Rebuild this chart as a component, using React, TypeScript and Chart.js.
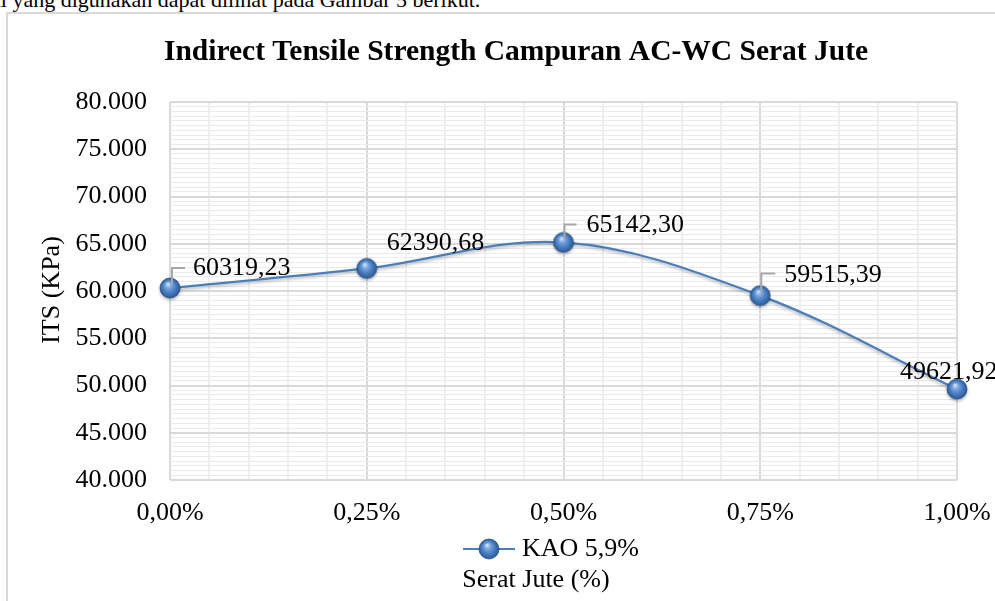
import React, { useEffect, useRef } from 'react';
import { Chart, registerables } from 'chart.js';

Chart.register(...registerables);

// ---- data ----
const chartTitle = 'Indirect Tensile Strength Campuran AC-WC Serat Jute';
const seriesName = 'KAO 5,9%';
const xAxisTitle = 'Serat Jute (%)';
const yAxisTitle = 'ITS (KPa)';
const pageText = 'al yang digunakan dapat dilihat pada Gambar 5 berikut.';

const fiberContent = [0, 0.25, 0.5, 0.75, 1.0];
const itsValues = [60319.23, 62390.68, 65142.3, 59515.39, 49621.92];

const yMin = 40000;
const yMax = 80000;
const yMajor = 5000;
const yMinor = 500;
const xMin = 0;
const xMax = 1;
const xMajor = 0.25;
const xMinor = 0.05;

// ---- styles ----
const FONT = '"Liberation Serif", "Times New Roman", serif';
const LINE_COLOR = '#4a7ebb';
const MAJOR_GRID = '#d9d9d9';
const MINOR_GRID_H = '#ebebeb';
const MINOR_GRID_V = '#efefef';

// label placement relative to each point (text left, text middle, optional leader corner/end)
const labelOffsets = [
  { dx: 23, dy: -20, leader: { cx: 2, cy: -20, ex: 15 } },
  { dx: 20, dy: -25, leader: null },
  { dx: 23, dy: -17, leader: { cx: 1, cy: -18, ex: 13 } },
  { dx: 24, dy: -20, leader: { cx: 1, cy: -22, ex: 15 } },
  { dx: -57, dy: -17, leader: null },
];

const fmtY = (v: number) =>
  Math.round(v).toString().replace(/\B(?=(\d{3})+(?!\d))/g, '.');
const fmtX = (v: number) => v.toFixed(2).replace('.', ',') + '%';
const fmtLabel = (v: number) => v.toFixed(2).replace('.', ',');
const isMultiple = (v: number, step: number) =>
  Math.abs(v / step - Math.round(v / step)) < 1e-6;

function makeSphere(): HTMLCanvasElement {
  const c = document.createElement('canvas');
  const s = 22;
  c.width = s;
  c.height = s;
  const g = c.getContext('2d')!;
  const cx = s / 2;
  const cy = s / 2;
  const r = 10;
  const grad = g.createRadialGradient(cx - 2, cy - 4, 0.5, cx, cy, r);
  grad.addColorStop(0, '#d3e3f7');
  grad.addColorStop(0.25, '#7fa9de');
  grad.addColorStop(0.6, '#4a80c6');
  grad.addColorStop(0.9, '#33649f');
  grad.addColorStop(1, '#2a5288');
  g.beginPath();
  g.arc(cx, cy, r, 0, Math.PI * 2);
  g.fillStyle = grad;
  g.fill();
  g.lineWidth = 0.8;
  g.strokeStyle = 'rgba(35,75,130,0.9)';
  g.stroke();
  return c;
}

export default function App() {
  const ref = useRef<HTMLCanvasElement | null>(null);

  useEffect(() => {
    const canvas = ref.current;
    if (!canvas) return;
    const sphere = makeSphere();

    const overlay = {
      id: 'overlay',
      beforeDatasetDraw(chart: any) {
        const ctx = chart.ctx;
        ctx.save();
        ctx.shadowColor = 'rgba(0,0,0,0.28)';
        ctx.shadowBlur = 3;
        ctx.shadowOffsetY = 2;
      },
      afterDatasetDraw(chart: any) {
        chart.ctx.restore();
      },
      afterDatasetsDraw(chart: any) {
        const ctx = chart.ctx;
        const meta = chart.getDatasetMeta(0);
        ctx.save();
        meta.data.forEach((pt: any, i: number) => {
          const o = labelOffsets[i];
          if (o.leader) {
            ctx.beginPath();
            ctx.strokeStyle = '#a6a6a6';
            ctx.lineWidth = 2;
            ctx.moveTo(pt.x + o.leader.cx, pt.y - 4);
            ctx.lineTo(pt.x + o.leader.cx, pt.y + o.leader.cy);
            ctx.lineTo(pt.x + o.leader.ex, pt.y + o.leader.cy);
            ctx.stroke();
          }
          ctx.fillStyle = '#000';
          ctx.font = `26px ${FONT}`;
          ctx.textAlign = 'left';
          ctx.textBaseline = 'middle';
          ctx.fillText(fmtLabel(itsValues[i]), pt.x + o.dx, pt.y + o.dy);
        });
        ctx.restore();
      },
      afterDraw(chart: any) {
        const ctx = chart.ctx;
        const ca = chart.chartArea;
        ctx.save();
        ctx.fillStyle = '#000';
        // title
        ctx.font = `bold 29.5px ${FONT}`;
        ctx.textAlign = 'center';
        ctx.textBaseline = 'alphabetic';
        ctx.fillText(chartTitle, 516, ca.top - 42);
        // y axis title
        ctx.save();
        ctx.translate(52, 290);
        ctx.rotate(-Math.PI / 2);
        ctx.font = `26px ${FONT}`;
        ctx.textAlign = 'center';
        ctx.textBaseline = 'middle';
        ctx.fillText(yAxisTitle, 0, 0);
        ctx.restore();
        // legend
        const ly = ca.bottom + 69;
        ctx.beginPath();
        ctx.strokeStyle = LINE_COLOR;
        ctx.lineWidth = 2;
        ctx.moveTo(463, ly);
        ctx.lineTo(515, ly);
        ctx.stroke();
        ctx.drawImage(sphere, 489 - sphere.width / 2, ly - sphere.height / 2);
        ctx.font = `26px ${FONT}`;
        ctx.textAlign = 'left';
        ctx.textBaseline = 'middle';
        ctx.fillText(seriesName, 522, ly);
        // x axis title
        ctx.textAlign = 'center';
        ctx.fillText(xAxisTitle, 536, ca.bottom + 100);
        ctx.restore();
      },
    };

    const chart = new Chart(canvas, {
      type: 'line',
      data: {
        datasets: [
          {
            label: seriesName,
            data: fiberContent.map((x, i) => ({ x, y: itsValues[i] })),
            borderColor: LINE_COLOR,
            backgroundColor: LINE_COLOR,
            borderWidth: 2.25,
            tension: 0.35,
            fill: false,
            pointStyle: sphere as any,
            pointRadius: 10,
            clip: false as any,
          },
        ],
      },
      options: {
        animation: false,
        responsive: false,
        devicePixelRatio: 1,
        events: [],
        layout: { padding: { left: 70, right: 38, top: 102, bottom: 61 } },
        plugins: {
          legend: { display: false },
          title: { display: false },
          tooltip: { enabled: false },
        },
        scales: {
          x: {
            type: 'linear',
            min: xMin,
            max: xMax,
            afterFit: (s: any) => {
              s.height = 60;
              s.paddingLeft = 0;
              s.paddingRight = 0;
            },
            border: { display: false },
            grid: {
              drawTicks: false,
              color: (c: any) => (isMultiple(c.tick.value, xMajor) ? MAJOR_GRID : MINOR_GRID_V),
              lineWidth: 2,
            },
            ticks: {
              stepSize: xMinor,
              autoSkip: false,
              maxRotation: 0,
              maxTicksLimit: 1000,
              padding: 18,
              color: '#000',
              font: { family: FONT, size: 26 },
              callback: (v: any) => (isMultiple(Number(v), xMajor) ? fmtX(Number(v)) : ''),
            },
          },
          y: {
            type: 'linear',
            min: yMin,
            max: yMax,
            afterFit: (s: any) => {
              s.width = 100;
              s.paddingTop = 0;
              s.paddingBottom = 0;
            },
            border: { display: false },
            grid: {
              drawTicks: false,
              color: (c: any) => (isMultiple(c.tick.value, yMajor) ? MAJOR_GRID : MINOR_GRID_H),
              lineWidth: (c: any) => (isMultiple(c.tick.value, yMajor) ? 2 : 1),
            },
            ticks: {
              stepSize: yMinor,
              autoSkip: false,
              maxTicksLimit: 1000,
              padding: 23,
              color: '#000',
              font: { family: FONT, size: 26 },
              callback: (v: any) => (isMultiple(Number(v), yMajor) ? fmtY(Number(v)) : ''),
            },
          },
        },
      },
      plugins: [overlay],
    } as any);

    return () => chart.destroy();
  }, []);

  return (
    <div
      style={{
        position: 'fixed',
        left: 0,
        top: 0,
        width: 995,
        height: 601,
        overflow: 'hidden',
        background: '#fff',
      }}
    >
      <div
        style={{
          position: 'absolute',
          left: -9,
          top: -11,
          fontFamily: FONT,
          fontSize: 22,
          lineHeight: '22px',
          whiteSpace: 'nowrap',
          color: '#000',
        }}
      >
        {pageText}
      </div>
      <div
        style={{
          position: 'absolute',
          left: 6,
          top: 12,
          width: 1200,
          height: 800,
          border: '2px solid #d9d9d9',
          boxSizing: 'border-box',
        }}
      />
      <canvas
        ref={ref}
        width={995}
        height={601}
        style={{ position: 'absolute', left: 0, top: 0, width: 995, height: 601 }}
      />
    </div>
  );
}
